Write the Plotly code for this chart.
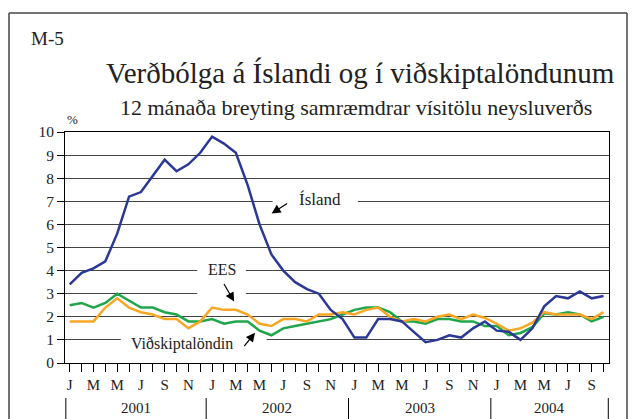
import plotly.graph_objects as go

months = ["J", "", "M", "", "M", "", "J", "", "S", "", "N", ""] * 4
months = months[:46]
years = ["2001", "2002", "2003", "2004"]

island = [3.4, 3.9, 4.1, 4.4, 5.6, 7.2, 7.4, 8.1, 8.8, 8.3, 8.6, 9.1,
          9.8, 9.5, 9.1, 7.7, 6.0, 4.7, 4.0, 3.5, 3.2, 3.0, 2.3, 1.9,
          1.1, 1.1, 1.9, 1.9, 1.8, 1.35, 0.9, 1.0, 1.2, 1.1, 1.5, 1.8,
          1.4, 1.35, 1.0, 1.5, 2.45, 2.9, 2.8, 3.1, 2.8, 2.9]
vidskipta = [2.5, 2.6, 2.4, 2.6, 3.0, 2.7, 2.4, 2.4, 2.2, 2.1, 1.8, 1.8,
             1.9, 1.7, 1.8, 1.8, 1.4, 1.2, 1.5, 1.6, 1.7, 1.8, 1.9, 2.1,
             2.3, 2.4, 2.4, 2.2, 1.8, 1.8, 1.7, 1.9, 1.9, 1.8, 1.8, 1.6,
             1.6, 1.2, 1.3, 1.55, 2.15, 2.1, 2.2, 2.1, 1.8, 2.0]
ees = [1.8, 1.8, 1.8, 2.4, 2.8, 2.4, 2.2, 2.1, 1.9, 1.9, 1.5, 1.8,
       2.4, 2.3, 2.3, 2.1, 1.7, 1.6, 1.9, 1.9, 1.8, 2.1, 2.1, 2.2,
       2.1, 2.3, 2.4, 2.0, 1.8, 1.9, 1.8, 2.0, 2.1, 1.9, 2.1, 1.95,
       1.7, 1.4, 1.5, 1.75, 2.2, 2.1, 2.1, 2.1, 1.9, 2.2]

x = list(range(len(island)))
SERIF = "Liberation Serif"

fig = go.Figure()
fig.add_trace(go.Scatter(x=x, y=vidskipta, mode="lines", name="Viðskiptalöndin",
                         line=dict(color="#1fa64a", width=2.5)))
fig.add_trace(go.Scatter(x=x, y=ees, mode="lines", name="EES",
                         line=dict(color="#f8a623", width=2.5)))
fig.add_trace(go.Scatter(x=x, y=island, mode="lines", name="Ísland",
                         line=dict(color="#2b3896", width=2.5)))

W, H = 636, 419
L, R, T, B = 65, 27, 132, 56
pw, ph = W - L - R, H - T - B


def px(xp):
    return (xp - L) / pw


def py(yp):
    return (H - B - yp) / ph


shapes = []
# outer frame
for (x0, y0, x1, y1) in [(9, 13, 627, 13), (9, 13, 9, 425), (627, 13, 627, 425)]:
    shapes.append(dict(type="line", xref="paper", yref="paper",
                       x0=px(x0), x1=px(x1), y0=py(y0), y1=py(y1),
                       line=dict(color="#444", width=1.5), layer="below"))
# white gaps in gridlines behind labels
for (x0, x1, y0, y1) in [(17.1, 24.3, 6.75, 7.25), (10.75, 14.85, 2.75, 4.25),
                         (4.3, 16.6, 0.8, 1.2)]:
    shapes.append(dict(type="rect", xref="x", yref="y", x0=x0, x1=x1, y0=y0, y1=y1,
                       fillcolor="white", line=dict(width=0), layer="between"))
# year separators
seps = [-0.33, 11.5, 23.5, 35.5, 45.4]
for s in seps:
    shapes.append(dict(type="line", xref="x", yref="paper", x0=s, x1=s,
                       y0=py(398), y1=py(420), line=dict(color="black", width=1)))

annotations = []
for k, yr in enumerate(years):
    annotations.append(dict(x=(seps[k] + seps[k + 1]) / 2, y=py(408), xref="x", yref="paper",
                            text=yr, showarrow=False, yanchor="middle", xanchor="center",
                            font=dict(family=SERIF, size=15, color="#222")))
annotations += [
    dict(x=px(29), y=py(38), xref="paper", yref="paper", text="M-5", showarrow=False,
         xanchor="left", yanchor="middle", font=dict(family=SERIF, size=19, color="#222")),
    dict(x=px(360), y=py(73), xref="paper", yref="paper",
         text="Verðbólga á Íslandi og í viðskiptalöndunum", showarrow=False,
         xanchor="center", yanchor="middle",
         font=dict(family=SERIF, size=29, color="#222")),
    dict(x=px(356), y=py(107), xref="paper", yref="paper",
         text="12 mánaða breyting samræmdrar vísitölu neysluverðs", showarrow=False,
         xanchor="center", yanchor="middle",
         font=dict(family=SERIF, size=22, color="#222")),
    dict(x=px(72), y=py(119), xref="paper", yref="paper", text="%", showarrow=False,
         xanchor="center", yanchor="middle",
         font=dict(family=SERIF, size=13, color="#222")),
    dict(x=21.08, y=7.08, xref="x", yref="y", text="Ísland", showarrow=False,
         font=dict(family=SERIF, size=17, color="#222")),
    dict(x=12.83, y=4.05, xref="x", yref="y", text="EES", showarrow=False,
         font=dict(family=SERIF, size=16, color="#222")),
    dict(x=9.45, y=0.84, xref="x", yref="y", text="Viðskiptalöndin", showarrow=False,
         font=dict(family=SERIF, size=16, color="#222")),
    dict(x=17.02, y=6.47, xref="x", yref="y", text="", showarrow=True, ax=17, ay=-11,
         arrowhead=2, arrowsize=1.5, arrowwidth=1.2, arrowcolor="black"),
    dict(x=13.86, y=2.66, xref="x", yref="y", text="", showarrow=True, ax=-11, ay=-19,
         arrowhead=2, arrowsize=1.5, arrowwidth=1.2, arrowcolor="black"),
    dict(x=15.62, y=1.31, xref="x", yref="y", text="", showarrow=True, ax=-12, ay=15,
         arrowhead=2, arrowsize=1.5, arrowwidth=1.2, arrowcolor="black"),
]

fig.update_layout(
    width=W, height=H, margin=dict(l=L, r=R, t=T, b=B),
    paper_bgcolor="white", plot_bgcolor="white", showlegend=False,
    shapes=shapes, annotations=annotations,
    xaxis=dict(range=[-0.4, 45.46], tickvals=x, ticktext=months, ticks="outside",
               ticklen=8, tickcolor="black", showgrid=False, showline=True,
               linecolor="black", mirror=True, zeroline=False,
               tickfont=dict(family=SERIF, size=15, color="#222")),
    yaxis=dict(range=[0, 10], dtick=1, ticks="outside", ticklen=7, tickcolor="black",
               showgrid=True, gridcolor="#444", gridwidth=1, showline=True,
               linecolor="black", mirror=True, zeroline=False,
               tickfont=dict(family=SERIF, size=15.5, color="#222")),
)

fig.write_html("out.html", config={"displayModeBar": False},
               post_script="document.body.style.margin='0';document.body.style.overflow='hidden';")
